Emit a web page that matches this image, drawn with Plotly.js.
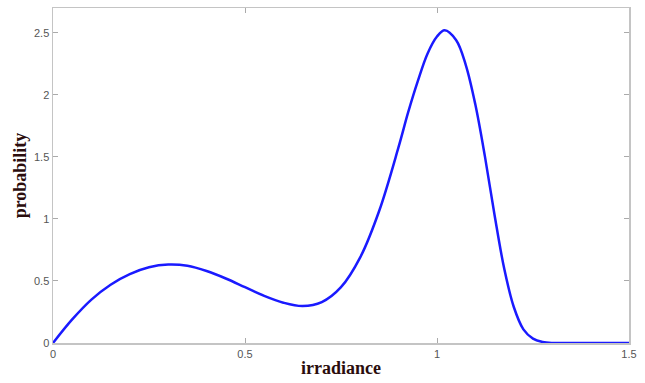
<!DOCTYPE html>
<html>
<head>
<meta charset="utf-8">
<script src="https://cdn.plot.ly/plotly-3.0.1.min.js"></script>
<style>html,body{margin:0;padding:0;background:#fff;}#chart{width:645px;height:383px;}</style>
</head>
<body>
<div id="chart"></div>
<script>
var irradiance = [0, 0.05, 0.1, 0.15, 0.2, 0.25, 0.3, 0.35, 0.4, 0.45, 0.5, 0.55, 0.6, 0.65, 0.7, 0.75, 0.8, 0.85, 0.9, 0.925, 0.95, 0.975, 1.0, 1.02, 1.05, 1.075, 1.1, 1.125, 1.15, 1.175, 1.2, 1.225, 1.25, 1.275, 1.3, 1.35, 1.4, 1.45, 1.5];
var probability = [0, 0.19, 0.35, 0.47, 0.555, 0.61, 0.632, 0.622, 0.58, 0.52, 0.45, 0.38, 0.325, 0.298, 0.33, 0.45, 0.69, 1.07, 1.58, 1.86, 2.11, 2.33, 2.47, 2.52, 2.44, 2.24, 1.92, 1.50, 1.03, 0.60, 0.29, 0.11, 0.035, 0.008, 0, 0, 0, 0, 0];
var xTicks = [0, 0.5, 1, 1.5];
var xTickText = ['0', '0.5', '1', '1.5'];
var yTicks = [0, 0.5, 1, 1.5, 2, 2.5];
var yTickText = ['0', '0.5', '1', '1.5', '2', '2.5'];

var trace = {
  x: irradiance, y: probability, type: 'scatter', mode: 'lines',
  line: {color: '#1a1aff', width: 2.5, shape: 'spline', smoothing: 1.0},
  hoverinfo: 'skip'
};
var tickFont = {family: 'Liberation Sans, Arial, sans-serif', size: 11, color: '#555'};
var titleFont = {family: 'Liberation Serif, Times New Roman, serif', size: 18, color: '#2b0d0d', weight: 'bold'};
var layout = {
  width: 645, height: 383,
  margin: {l: 53, r: 16, t: 8, b: 40},
  paper_bgcolor: '#fff', plot_bgcolor: '#fff',
  showlegend: false,
  xaxis: {
    range: [0, 1.5], tickvals: xTicks, ticktext: xTickText,
    ticks: 'inside', ticklen: 5, tickcolor: '#aaa', tickwidth: 1,
    showline: true, linecolor: '#c4c4c4', linewidth: 1.5, mirror: 'ticks',
    showgrid: false, zeroline: false, tickfont: tickFont,
    title: {text: 'irradiance', font: titleFont, standoff: 2}
  },
  yaxis: {
    range: [0, 2.7], tickvals: yTicks, ticktext: yTickText,
    ticks: 'inside', ticklen: 5, tickcolor: '#aaa', tickwidth: 1,
    showline: true, linecolor: '#c4c4c4', linewidth: 1.5, mirror: 'ticks',
    showgrid: false, zeroline: false, tickfont: tickFont,
    title: {text: 'probability', font: titleFont, standoff: 2}
  }
};
Plotly.newPlot('chart', [trace], layout, {displayModeBar: false, staticPlot: true});
</script>
</body>
</html>
